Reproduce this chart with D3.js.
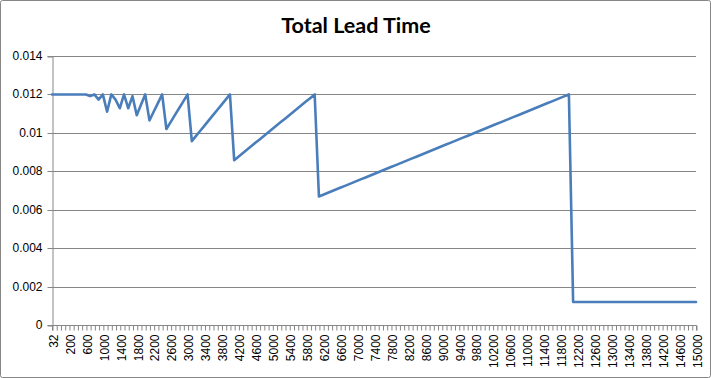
<!DOCTYPE html>
<html>
<head>
<meta charset="utf-8">
<script src="https://cdn.jsdelivr.net/npm/d3@7"></script>
<style>
  html, body { margin: 0; padding: 0; background: #fff; }
  svg { display: block; }
</style>
</head>
<body>
<svg id="chart" width="711" height="378"></svg>
<script>
const title = "Total Lead Time";

const categories = [
  "32","50","100","150","200","300","400","500","600","700","800","900","1000",
  "1100","1200","1300","1400","1500","1600","1700","1800","1900","2000","2100",
  "2200","2300","2400","2500","2600","2700","2800","2900","3000","3100","3200",
  "3300","3400","3500","3600","3700","3800","3900","4000","4100","4200","4300",
  "4400","4500","4600","4700","4800","4900","5000","5100","5200","5300","5400",
  "5500","5600","5700","5800","5900","6000","6100","6200","6300","6400","6500",
  "6600","6700","6800","6900","7000","7100","7200","7300","7400","7500","7600",
  "7700","7800","7900","8000","8100","8200","8300","8400","8500","8600","8700",
  "8800","8900","9000","9100","9200","9300","9400","9500","9600","9700","9800",
  "9900","10000","10100","10200","10300","10400","10500","10600","10700","10800",
  "10900","11000","11100","11200","11300","11400","11500","11600","11700","11800",
  "11900","12000","12100","12200","12300","12400","12500","12600","12700","12800",
  "12900","13000","13100","13200","13300","13400","13500","13600","13700","13800",
  "13900","14000","14100","14200","14300","14400","14500","14600","14700","14800",
  "14900","15000"
];

const leadTime = [
  0.012,0.012,0.012,0.012,0.012,0.012,0.012,0.012,0.012,0.01191,0.012,0.01173,0.012,
  0.0111,0.012,0.01173,0.01128,0.012,0.01128,0.01191,0.01092,0.01146,0.012,0.01065,
  0.0111,0.01155,0.012,0.0102,0.01056,0.01092,0.01128,0.01164,0.012,0.00957,0.00984,
  0.01011,0.01038,0.01065,0.01092,0.01119,0.01146,0.01173,0.012,0.00858,0.00876,0.00894,
  0.00912,0.0093,0.00948,0.00966,0.00984,0.01002,0.0102,0.01038,0.01056,0.01074,0.01092,
  0.0111,0.01128,0.01146,0.01164,0.01182,0.012,0.00669,0.00678,0.00687,0.00696,0.00705,
  0.00714,0.00723,0.00732,0.00741,0.0075,0.00759,0.00768,0.00777,0.00786,0.00795,0.00804,
  0.00813,0.00822,0.00831,0.0084,0.00849,0.00858,0.00867,0.00876,0.00885,0.00894,0.00903,
  0.00912,0.00921,0.0093,0.00939,0.00948,0.00957,0.00966,0.00975,0.00984,0.00993,0.01002,
  0.01011,0.0102,0.01029,0.01038,0.01047,0.01056,0.01065,0.01074,0.01083,0.01092,
  0.01101,0.0111,0.01119,0.01128,0.01137,0.01146,0.01155,0.01164,0.01173,0.01182,
  0.01191,0.012,0.0012,0.0012,0.0012,0.0012,0.0012,0.0012,0.0012,0.0012,
  0.0012,0.0012,0.0012,0.0012,0.0012,0.0012,0.0012,0.0012,0.0012,0.0012,
  0.0012,0.0012,0.0012,0.0012,0.0012,0.0012,0.0012,0.0012,0.0012,0.0012,
  0.0012,0.0012
];

const yTicks = [0, 0.002, 0.004, 0.006, 0.008, 0.01, 0.012, 0.014];
const yTickLabels = ["0","0.002","0.004","0.006","0.008","0.01","0.012","0.014"];
const labelEvery = 4;

const W = 711, H = 378;
const plot = { left: 52, right: 696, top: 56, bottom: 325 };
const gray = "#868686";
const lineColor = "#4A7EBB";
const tickFont = "Liberation Sans, Arial, sans-serif";

const svg = d3.select("#chart");

svg.append("rect")
  .attr("x", 0.5).attr("y", 0.5)
  .attr("width", W - 1).attr("height", H - 1)
  .attr("rx", 2)
  .attr("fill", "#fff").attr("stroke", gray);

const x = d3.scalePoint().domain(categories).range([plot.left, plot.right]);
const y = d3.scaleLinear().domain([0, 0.014]).range([plot.bottom, plot.top]);

// gridlines
svg.append("g").selectAll("line")
  .data(yTicks.filter(d => d > 0))
  .join("line")
  .attr("x1", plot.left).attr("x2", plot.right)
  .attr("y1", d => Math.round(y(d)) + 0.5).attr("y2", d => Math.round(y(d)) + 0.5)
  .attr("stroke", gray).attr("stroke-width", 1);

// y axis
const yAxis = d3.axisLeft(y).tickValues(yTicks)
  .tickFormat((d, i) => yTickLabels[i]).tickSize(5).tickPadding(5);
const gy = svg.append("g")
  .attr("transform", `translate(${plot.left + 0.5},0.5)`)
  .call(yAxis);
gy.select(".domain").attr("stroke", gray);
gy.selectAll(".tick line").attr("stroke", gray);
gy.selectAll(".tick")
  .attr("transform", d => `translate(0,${Math.round(y(d))})`);
gy.selectAll("text")
  .attr("font-family", tickFont)
  .attr("font-size", 12).attr("fill", "#000");

// x axis
const xAxis = d3.axisBottom(x).tickSize(5).tickPadding(4)
  .tickFormat((d, i) => i % labelEvery === 0 ? d : "");
const gx = svg.append("g")
  .attr("transform", `translate(0.5,${plot.bottom + 0.5})`)
  .call(xAxis);
gx.select(".domain").attr("stroke", gray).attr("d", `M${plot.left},5V0H${plot.right}V5`);
gx.selectAll(".tick line").attr("stroke", gray);
gx.selectAll("text")
  .attr("font-family", tickFont)
  .attr("font-size", 12).attr("fill", "#000")
  .attr("transform", "rotate(-90)")
  .attr("text-anchor", "end")
  .attr("x", -9).attr("y", 0).attr("dy", "0.4em")
  .attr("dx", 0);
gx.selectAll(".tick text").filter(function() { return this.textContent === ""; }).remove();

// line
const line = d3.line()
  .x((d, i) => x(categories[i]))
  .y(d => y(d));
svg.append("path")
  .datum(leadTime)
  .attr("d", line)
  .attr("fill", "none")
  .attr("stroke", lineColor)
  .attr("stroke-width", 2.6)
  .attr("stroke-linejoin", "round")
  .attr("stroke-linecap", "round");

// title
svg.append("text")
  .attr("x", 356).attr("y", 33)
  .attr("text-anchor", "middle")
  .attr("font-family", "Lato, Carlito, sans-serif")
  .attr("font-weight", "bold")
  .attr("font-size", 21.5)
  .attr("fill", "#000")
  .text(title);
</script>
</body>
</html>
